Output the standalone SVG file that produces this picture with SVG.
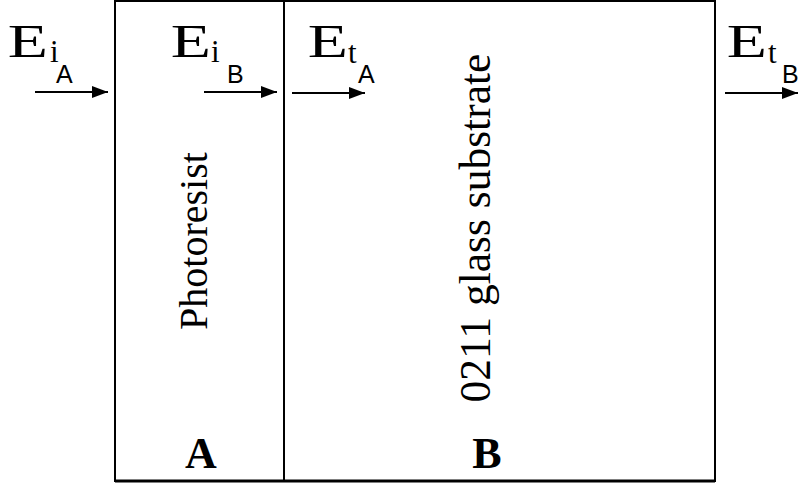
<svg xmlns="http://www.w3.org/2000/svg" width="799" height="486" viewBox="0 0 799 486">
  <style>
    .rm { font-family: "Liberation Serif", Tinos, "Times New Roman", Times, "DejaVu Serif", serif; }
    .ss { font-family: "Liberation Sans", Arimo, Arial, "DejaVu Sans", sans-serif; }
    .frame { fill: none; stroke: #000; stroke-width: 2; }
    .wire { fill: none; stroke: #000; stroke-width: 2; }
    .big { font-size: 47px; }
    .sub { font-size: 31px; }
    .subsub { font-size: 25px; }
    .layer { font-size: 40px; }
    .tag { font-size: 44px; font-weight: bold; text-anchor: middle; }
  </style>
  <defs>
    <marker id="head" viewBox="0 0 16 12" refX="16" refY="6" markerWidth="16" markerHeight="12" markerUnits="userSpaceOnUse" orient="auto">
      <path d="M0,0 L16,6 L0,12 Z" fill="#000"/>
    </marker>
  </defs>
  <rect width="799" height="486" fill="#fff"/>

  <!-- layer stack outline -->
  <g id="layer-a">
    <rect class="frame" x="115" y="1" width="169" height="480"/>
    <text class="rm layer" transform="translate(207,241) rotate(-90)" text-anchor="middle">Photoresist</text>
    <text class="rm tag" x="201" y="468">A</text>
  </g>
  <g id="layer-b">
    <rect class="frame" x="284" y="1" width="431" height="480"/>
    <line x1="115" y1="481" x2="715" y2="481" stroke="#000" stroke-width="3"/>
    <text class="rm" font-size="43.5" transform="translate(490,228) rotate(-90)" text-anchor="middle">0211 glass substrate</text>
    <text class="rm tag" x="487" y="468">B</text>
  </g>

  <!-- field labels: E with nested subscripts -->
  <g id="label-eia">
    <text class="rm big" transform="translate(7.7,57) scale(1.4,1)">E</text>
    <text class="rm sub" x="50" y="62">i</text>
    <text class="ss subsub" x="56" y="83">A</text>
  </g>
  <g id="label-eib">
    <text class="rm big" transform="translate(170.7,57) scale(1.4,1)">E</text>
    <text class="rm sub" x="211" y="62">i</text>
    <text class="ss subsub" x="227" y="83">B</text>
  </g>
  <g id="label-eta">
    <text class="rm big" transform="translate(307.7,57) scale(1.4,1)">E</text>
    <text class="rm sub" x="348" y="63">t</text>
    <text class="ss subsub" x="358" y="83">A</text>
  </g>
  <g id="label-etb">
    <text class="rm big" transform="translate(726.7,57) scale(1.4,1)">E</text>
    <text class="rm sub" x="768" y="63">t</text>
    <text class="ss subsub" x="782" y="83">B</text>
  </g>

  <!-- propagation arrows -->
  <g id="connectors">
    <line class="wire" x1="35" y1="92" x2="108" y2="92" marker-end="url(#head)"/>
    <line class="wire" x1="204" y1="92" x2="277" y2="92" marker-end="url(#head)"/>
    <line class="wire" x1="292" y1="93" x2="365" y2="93" marker-end="url(#head)"/>
    <line class="wire" x1="725" y1="93" x2="798" y2="93" marker-end="url(#head)"/>
  </g>
</svg>
